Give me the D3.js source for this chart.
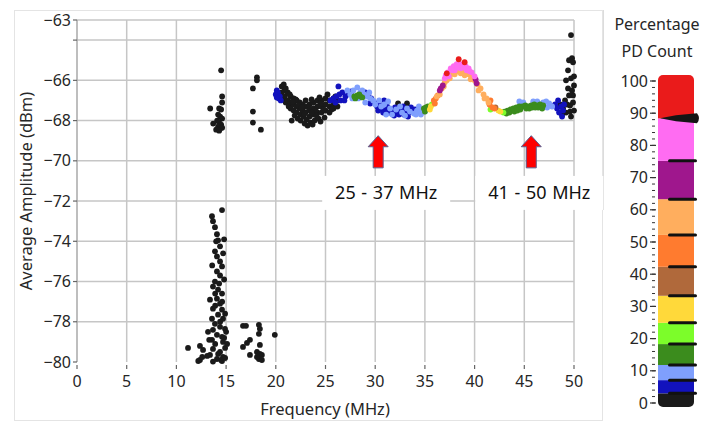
<!DOCTYPE html>
<html><head><meta charset="utf-8">
<script src="https://cdn.jsdelivr.net/npm/d3@7"></script>
<style>body{margin:0;background:#fff}svg{display:block;font-family:"Noto Sans",sans-serif}</style>
</head><body><svg id="c" width="702" height="422"></svg>
<script>
// ---------- data ----------
const xTicks = [0,5,10,15,20,25,30,35,40,45,50];
const yLabelTicks = [-80,-78,-76,-74,-72,-70,-68,-66,-63];
const yGridTicks = [-78,-76,-74,-72,-70,-68,-66,-64];
const legendTicks = [0,10,20,30,40,50,60,70,80,90,100];
const legendThresholds = [0,3.0,7.1,11.8,18.3,24.9,33.3,42.3,52.2,63.3,75.2,88.4,100];
const legendColors = ["#1a1a1a","#1212bd","#7f9ffd","#3b8c1d","#7cfd2a","#ffd93a","#b0693b","#ff7b2f","#ffae5e","#9f178d","#ff6cf2","#ea1b1b"];
const pointerValue = 88.4;
const annotations = [{f:30.3, label:"25 - 37 MHz"},{f:45.7, label:"41 - 50 MHz"}];

const blackLowPts = [
 [14.5,-65.5],[14.6,-66.8],[14.6,-67.1],[13.4,-67.4],[14.3,-67.4],[14.5,-67.45],[14.2,-67.7],[14.4,-67.8],[14.6,-67.9],
 [14.1,-68.0],[14.3,-68.1],[14.5,-68.2],[13.7,-68.15],[14.2,-68.3],[14.4,-68.4],[14.6,-68.35],[14.0,-68.45],[14.3,-68.5],
 [18.1,-65.85],[18.1,-66.0],[17.7,-66.4],[17.7,-67.55],[17.7,-68.1],[18.5,-68.45],
 [14.59,-72.45],[13.58,-72.75],[13.68,-73.0],[13.88,-73.3],[14.08,-73.65],[14.19,-73.95],[14.39,-74.25],[13.88,-74.5],
 [14.08,-74.75],[14.39,-75.0],[14.59,-75.25],[14.08,-75.5],[14.39,-75.7],[13.88,-76.0],[13.68,-76.25],[14.19,-76.4],
 [14.59,-76.6],[14.08,-76.85],[13.38,-76.9],[14.39,-77.1],[13.68,-77.35],[14.59,-77.4],[14.19,-77.65],[13.58,-77.85],
 [14.69,-77.85],[13.88,-78.1],[14.39,-78.25],[13.68,-78.4],[14.89,-78.35],[13.18,-78.5],[14.08,-78.65],[14.59,-78.75],
 [13.58,-78.9],[14.69,-79.0],[11.17,-79.3],[12.37,-79.2],[12.68,-79.4],[13.68,-79.35],[14.39,-79.5],[13.38,-79.65],
 [14.69,-79.75],[14.08,-79.85],[12.37,-79.9],[13.68,-79.98],[14.59,-79.95],
 [14.8,-73.9],[14.0,-74.0],[14.7,-74.6],[13.6,-75.2],[14.8,-75.9],[14.3,-76.1],[13.9,-76.6],[14.6,-77.0],[14.9,-77.6],
 [13.9,-77.2],[14.4,-78.0],[14.8,-78.8],[13.9,-79.1],[14.9,-79.3],[14.2,-79.6],[14.5,-79.9],[13.1,-79.7],[15.0,-78.5],
 [14.9,-79.8],[13.3,-78.9],[15.1,-79.1],
 [16.7,-78.2],[17.0,-78.2],[18.3,-78.15],[18.4,-78.35],[18.3,-78.6],[19.9,-78.65],[17.4,-78.9],[17.1,-79.05],[16.7,-79.25],
 [18.4,-79.15],[18.1,-79.5],[18.4,-79.6],[17.4,-79.65],[18.6,-79.65],[18.3,-79.85],[18.6,-79.9],[18.1,-79.75],
 [12.2,-79.95],[12.6,-79.75]
];
const blackBandPts = [
 [20.6,-66.3],[20.6,-66.6],[20.7,-66.9],[20.9,-66.5],[20.9,-66.8],[21.0,-67.1],[21.2,-66.6],[21.2,-67.0],[21.3,-67.3],
 [21.5,-66.8],[21.5,-67.1],[21.5,-67.4],[21.6,-68.0],[21.8,-66.9],[21.8,-67.2],[21.8,-67.5],[21.9,-67.75],[22.1,-67.0],
 [22.1,-67.3],[22.1,-67.6],[22.2,-67.9],[22.4,-67.1],[22.4,-67.4],[22.5,-67.7],[22.5,-68.0],[22.7,-67.2],[22.7,-67.5],
 [22.8,-67.8],[23.0,-67.0],[23.0,-67.3],[23.0,-67.6],[23.1,-67.95],[23.2,-68.25],[23.4,-67.2],[23.4,-67.5],[23.4,-67.8],
 [23.5,-68.1],[23.7,-68.2],[23.8,-67.1],[23.8,-67.4],[23.8,-67.7],[23.9,-68.0],[24.2,-67.0],[24.2,-67.3],[24.2,-67.6],
 [24.3,-67.9],[24.6,-67.0],[24.6,-67.3],[24.6,-67.6],[24.9,-67.85],[25.0,-66.9],[25.0,-67.2],[25.0,-67.5],[25.4,-67.0],
 [25.4,-67.3],[25.4,-67.6],[25.8,-66.9],[25.8,-67.2],[25.8,-67.4],[26.2,-67.0],[26.2,-67.3],[20.8,-66.2],[22.0,-66.95],
 [23.6,-66.95],[24.4,-66.85],[25.2,-66.7],[26.0,-66.8],
 [21.0,-66.4],[21.4,-66.7],[22.3,-67.25],[22.9,-67.65],[23.3,-67.35],[24.0,-67.5],[24.5,-67.15],[24.8,-67.45],[25.6,-67.45],
 [22.6,-67.35],[23.6,-67.6],[24.1,-67.75],[21.7,-67.05],[22.9,-68.15],[24.5,-68.05],
 [32.3,-67.15],[33.2,-67.15],
 [49.7,-63.75],[49.5,-65.0],[49.9,-65.1],[49.2,-66.0],[49.7,-65.9],[49.4,-65.5],[49.4,-66.4],[49.9,-66.75],[49.1,-67.0],
 [49.6,-67.25],[50.0,-67.5],[49.2,-67.6],[49.7,-67.8],[48.8,-67.7],[48.6,-67.2],[49.8,-66.5],[50.0,-66.25],[49.5,-66.75],
 [48.9,-67.4],[49.3,-67.2],[49.9,-67.1],[49.6,-67.55],[50.0,-65.8],[49.8,-64.9]
];
const darkBluePts = [
 [20.0,-66.7],[20.1,-66.5],[20.2,-66.6],[20.3,-66.9],[20.4,-66.8],[20.5,-67.0],[20.1,-66.85],
 [25.5,-67.0],[25.8,-66.9],[26.1,-66.8],[26.4,-66.7],[26.7,-66.6],[26.0,-67.1],[26.5,-67.0],[27.0,-66.8],[27.3,-66.7],[26.3,-66.3],
 [29.3,-66.7],[29.6,-66.9],[29.9,-67.1],[30.2,-67.3],[30.4,-67.2],[29.0,-66.6],
 [30.6,-67.4],[31.0,-67.5],[31.4,-67.6],[31.8,-67.55],[32.2,-67.6],[32.6,-67.5],[33.0,-67.55],[33.4,-67.6],[33.8,-67.5],
 [31.2,-67.3],[32.0,-67.35],[32.8,-67.3],[33.6,-67.35],[30.8,-67.6],[32.4,-67.7],
 [30.3,-67.5],[31.6,-67.45],[32.9,-67.7],[34.0,-67.45],[30.9,-67.0],[31.9,-67.75],[33.3,-67.8],[29.5,-67.15],[27.6,-66.55],[26.9,-67.0],
 [48.1,-67.2],[48.3,-67.4],[48.5,-67.6],[48.7,-67.3],[48.9,-67.5],[48.4,-67.0],[48.8,-67.8],[49.0,-67.2]
];
const lightBluePts = [
 [27.5,-66.7],[27.8,-66.5],[28.2,-66.35],[28.5,-66.6],[28.9,-66.7],[29.2,-66.8],[29.5,-66.9],[29.8,-67.0],[30.0,-67.2],
 [27.7,-66.9],[28.3,-66.9],[29.0,-67.1],
 [30.4,-67.0],[30.9,-67.2],[31.5,-67.4],[32.1,-67.45],[32.7,-67.6],[33.2,-67.4],[33.9,-67.65],[34.2,-67.5],[34.5,-67.55],
 [34.8,-67.45],[35.0,-67.55],[34.1,-67.7],[31.7,-67.7],[33.0,-67.75],
 [30.6,-67.3],[31.3,-67.05],[32.5,-67.3],[33.5,-67.55],[34.4,-67.3],[34.6,-67.7],[28.7,-66.5],[29.4,-66.6],[27.2,-66.5],[31.1,-67.7],
 [44.5,-67.05],[44.9,-67.1],[46.9,-67.1],[47.2,-67.05],[47.5,-67.15],[47.8,-67.3],[47.3,-67.35],[45.9,-67.05],[46.3,-67.05]
];
const greenPts = [
 [27.9,-66.8],[28.2,-66.75],[28.5,-66.8],[28.7,-66.85],[28.0,-66.9],[28.4,-66.7],
 [34.9,-67.4],[35.1,-67.35],[35.3,-67.3],[35.0,-67.55],
 [43.0,-67.55],[43.3,-67.5],[43.6,-67.45],[43.9,-67.4],[44.2,-67.35],[44.5,-67.3],[44.8,-67.3],[45.1,-67.25],[45.4,-67.3],
 [45.7,-67.25],[46.0,-67.2],[46.3,-67.25],[46.6,-67.2],[46.9,-67.25],[43.5,-67.6],[44.0,-67.55],[44.6,-67.45],[45.2,-67.4],
 [45.8,-67.35],[46.4,-67.35],[44.3,-67.5],[45.5,-67.4],[46.1,-67.35],[46.8,-67.4],[43.2,-67.65]
];
const lightGreenPts = [[35.7,-67.2],[41.6,-67.45],[42.9,-67.6]];
const yellowPts = [[35.6,-67.3],[35.5,-67.45],[42.4,-67.5],[42.6,-67.55]];
const brownPts = [[42.1,-67.35]];
const orangePts = [[35.9,-67.0],[36.1,-66.9],[36.3,-66.75],[36.0,-67.15],[41.5,-67.2],[41.8,-67.35],[42.0,-67.4],[41.6,-67.0]];
const lightOrangePts = [
 [36.2,-66.8],[36.7,-66.4],[37.0,-66.1],[37.3,-65.85],[37.6,-65.7],[37.9,-65.6],[38.2,-65.55],[38.5,-65.5],[38.8,-65.55],
 [39.1,-65.6],[39.4,-65.7],[39.7,-65.85],[40.0,-66.0],[40.3,-66.2],[40.6,-66.4],[40.9,-66.7],[41.2,-66.9],[41.4,-67.1],
 [36.9,-66.3],[38.0,-65.7],[39.0,-65.75],[37.5,-65.9],[38.6,-65.65],[39.6,-65.95],[40.4,-66.5],[36.5,-66.7],[41.0,-66.9],[37.2,-66.0]
];
const purplePts = [[36.5,-66.5],[36.8,-66.25],[36.6,-66.4],[40.2,-66.15],[40.1,-65.95]];
const pinkPts = [
 [37.0,-65.9],[37.3,-65.6],[37.6,-65.4],[37.9,-65.3],[38.2,-65.2],[38.5,-65.2],[38.8,-65.2],[39.1,-65.3],[39.4,-65.4],
 [39.7,-65.6],[40.0,-65.8],[37.4,-65.8],[38.0,-65.5],[38.6,-65.4],[39.2,-65.5],
 [37.8,-65.5],[38.3,-65.35],[38.9,-65.35],[39.5,-65.55],[37.1,-65.75]
];
const redPts = [[37.2,-65.65],[38.4,-64.95],[39.0,-65.1]];

const seriesList = [
 [blackLowPts, legendColors[0]], [blackBandPts, legendColors[0]], [darkBluePts, legendColors[1]],
 [lightBluePts, legendColors[2]], [greenPts, legendColors[3]], [lightGreenPts, legendColors[4]],
 [yellowPts, legendColors[5]], [brownPts, legendColors[6]], [orangePts, legendColors[7]],
 [lightOrangePts, legendColors[8]], [purplePts, legendColors[9]], [pinkPts, legendColors[10]], [redPts, legendColors[11]]
];

// ---------- drawing ----------
const svg = d3.select("#c");
const x = d3.scaleLinear([0,50],[77,574]);
const y = d3.scaleLinear([-80,-63],[362,20]);
const txt = "#262626";

// panel frames
svg.append("rect").attr("x",14.5).attr("y",10.5).attr("width",588).attr("height",410)
  .attr("fill","none").attr("stroke","#e4e4e4");
svg.append("line").attr("x1",603.5).attr("x2",603.5).attr("y1",10).attr("y2",210).attr("stroke","#dcdcdc");

// grid
const g = svg.append("g");
g.selectAll(".vg").data(xTicks.slice(1)).join("line")
  .attr("x1",d=>x(d)).attr("x2",d=>x(d)).attr("y1",y(-63)).attr("y2",y(-80))
  .attr("stroke","#c6c6c6").attr("stroke-width",1.5);
g.selectAll(".hg").data(yGridTicks.concat([-63])).join("line")
  .attr("x1",x(0)).attr("x2",x(50)).attr("y1",d=>y(d)).attr("y2",d=>y(d))
  .attr("stroke","#c6c6c6").attr("stroke-width",1.5);
g.append("line").attr("x1",x(0)).attr("x2",x(0)).attr("y1",y(-63)).attr("y2",y(-80))
  .attr("stroke","#a8a8a8").attr("stroke-width",1.5);

// y ticks
g.selectAll(".yt").data(yGridTicks.concat([-63,-80])).join("line")
  .attr("x1",x(0)-4).attr("x2",x(0)).attr("y1",d=>y(d)).attr("y2",d=>y(d))
  .attr("stroke","#666").attr("stroke-width",1.2);
const fmt = d3.format("d");
g.selectAll(".yl").data(yLabelTicks).join("text")
  .attr("x",x(0)-6).attr("y",d=>y(d)).attr("dy","0.35em").attr("text-anchor","end")
  .attr("font-size",16).attr("fill",txt).text(d=>fmt(d));
// x ticks
g.selectAll(".xt").data(xTicks).join("line")
  .attr("x1",d=>x(d)).attr("x2",d=>x(d)).attr("y1",y(-80)+3).attr("y2",y(-80)+7)
  .attr("stroke","#666").attr("stroke-width",1.2);
g.selectAll(".xl").data(xTicks).join("text")
  .attr("x",d=>x(d)).attr("y",y(-80)+25).attr("text-anchor","middle")
  .attr("font-size",16).attr("fill",txt).text(d=>d);

// axis titles
svg.append("text").attr("x",325).attr("y",415).attr("text-anchor","middle")
  .attr("font-size",16.5).attr("fill",txt).text("Frequency (MHz)");
svg.append("text").attr("transform","translate(32,191) rotate(-90)").attr("text-anchor","middle")
  .attr("font-size",16.5).attr("fill",txt).text("Average Amplitude (dBm)");

// points
const pg = svg.append("g");
seriesList.forEach(([pts,col])=>{
  pg.append("g").selectAll("circle").data(pts).join("circle")
    .attr("cx",d=>x(d[0])).attr("cy",d=>y(d[1])).attr("r",2.9).attr("fill",col);
});

// annotations: arrows + label boxes
annotations.forEach(a=>{
  const cx = x(a.f), tip = y(-68.75), hb = y(-69.3), sb = y(-70.35);
  svg.append("path")
    .attr("d",`M${cx},${tip} L${cx+10},${hb} L${cx+5},${hb} L${cx+5},${sb} L${cx-5},${sb} L${cx-5},${hb} L${cx-10},${hb} Z`)
    .attr("fill","#ff0000").attr("stroke","#5a5f8f").attr("stroke-width",1);
  const w = 128, h = 34, by = y(-70.75);
  svg.append("rect").attr("x",cx-56).attr("y",by).attr("width",w).attr("height",h).attr("fill","#fff");
  svg.append("text").attr("x",cx+8).attr("y",by+23).attr("text-anchor","middle")
    .attr("font-size",18).attr("fill","#111").attr("word-spacing","1px").text(a.label);
});

// legend
const lg = d3.scaleLinear([0,100],[403,81]);
svg.append("text").attr("x",657).attr("y",30).attr("text-anchor","middle").attr("font-size",16).attr("fill",txt).text("Percentage");
svg.append("text").attr("x",657).attr("y",57).attr("text-anchor","middle").attr("font-size",16).attr("fill",txt).text("PD Count");
const clip = svg.append("clipPath").attr("id","cb");
clip.append("rect").attr("x",658).attr("y",lg(100)-6).attr("width",36).attr("height",lg(0)+4-(lg(100)-6)).attr("rx",5);
const cbar = svg.append("g").attr("clip-path","url(#cb)");
legendColors.forEach((c,i)=>{
  const lo = legendThresholds[i], hi = legendThresholds[i+1];
  const y0 = i===0 ? lg(0)+4 : lg(lo);
  const y1 = i===legendColors.length-1 ? lg(100)-6 : lg(hi);
  cbar.append("rect").attr("x",658).attr("y",y1).attr("width",36).attr("height",y0-y1).attr("fill",c);
});
svg.selectAll(".lmt").data(d3.range(0,101,2)).join("line")
  .attr("x1",652).attr("x2",655).attr("y1",d=>lg(d)).attr("y2",d=>lg(d))
  .attr("stroke","#333").attr("stroke-width",1);
svg.selectAll(".lt").data(legendTicks).join("line")
  .attr("x1",650).attr("x2",656).attr("y1",d=>lg(d)).attr("y2",d=>lg(d))
  .attr("stroke","#333").attr("stroke-width",1.2);
svg.selectAll(".ll").data(legendTicks).join("text")
  .attr("x",648).attr("y",d=>lg(d)).attr("dy","0.35em").attr("text-anchor","end")
  .attr("font-size",16).attr("fill",txt).text(d=>d);
svg.selectAll(".tm").data(legendThresholds.slice(1,-1).filter(v=>v!==pointerValue)).join("rect")
  .attr("x",668).attr("y",d=>lg(d)-1.5).attr("width",29).attr("height",3).attr("rx",1.5).attr("fill","#111");
const py = lg(pointerValue);
svg.append("path")
  .attr("d",`M660,${py} L676,${py-3} L697,${py-5} Q701,${py} 697,${py+5} L676,${py+3} Z`)
  .attr("fill","#151515");
</script></body></html>
